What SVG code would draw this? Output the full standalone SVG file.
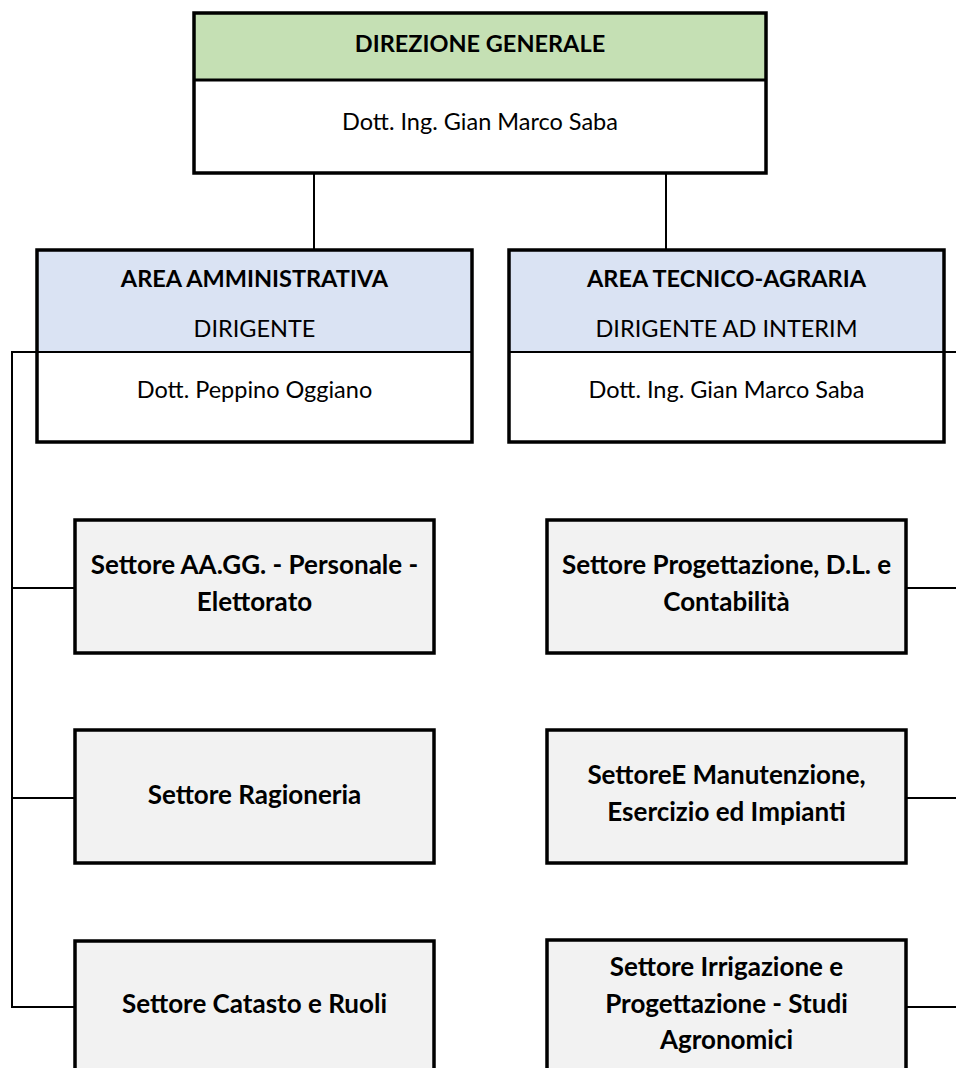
<svg xmlns="http://www.w3.org/2000/svg" width="956" height="1068" viewBox="0 0 956 1068">
<style>
.box{stroke:#000;stroke-width:3.5}
.div{stroke:#000;stroke-width:2}
.t{font-family:Lato,"Liberation Sans",sans-serif;font-size:23.5px;fill:#000;text-anchor:middle}
.b{font-weight:bold}
.s{font-family:Lato,"Liberation Sans",sans-serif;font-size:26px;font-weight:bold;fill:#000;text-anchor:middle}
.conn{stroke:#000;stroke-width:2;fill:none}
</style>
<rect width="956" height="1068" fill="#fff"/>
<g id="connectors">
<line class="conn" x1="314" y1="173" x2="314" y2="250"/>
<line class="conn" x1="666" y1="173" x2="666" y2="250"/>
<polyline class="conn" points="37,352 12,352 12,1007 75,1007"/>
<line class="conn" x1="12" y1="588" x2="75" y2="588"/>
<line class="conn" x1="12" y1="798" x2="75" y2="798"/>
<line class="conn" x1="944" y1="352" x2="956" y2="352"/>
<line class="conn" x1="906" y1="588" x2="956" y2="588"/>
<line class="conn" x1="906" y1="798" x2="956" y2="798"/>
<line class="conn" x1="906" y1="1007" x2="956" y2="1007"/>
</g>
<g id="direzione">
<rect x="194" y="13" width="572" height="67" fill="#C5E0B4"/>
<rect x="194" y="80" width="572" height="93" fill="#fff"/>
<line x1="194" y1="80" x2="766" y2="80" stroke="#000" stroke-width="3"/>
<rect class="box" x="194" y="13" width="572" height="160" fill="none"/>
<text class="t b" x="480" y="52">DIREZIONE GENERALE</text>
<text class="t" x="480" y="130">Dott. Ing. Gian Marco Saba</text>
</g>
<g id="area-amministrativa">
<rect x="37" y="250" width="435" height="102" fill="#DAE3F3"/>
<rect x="37" y="352" width="435" height="90" fill="#fff"/>
<line class="div" x1="37" y1="352" x2="472" y2="352"/>
<rect class="box" x="37" y="250" width="435" height="192" fill="none"/>
<text class="t b" x="254.5" y="287">AREA AMMINISTRATIVA</text>
<text class="t" x="254.5" y="337">DIRIGENTE</text>
<text class="t" x="254.5" y="398">Dott. Peppino Oggiano</text>
</g>
<g id="area-tecnico">
<rect x="509" y="250" width="435" height="102" fill="#DAE3F3"/>
<rect x="509" y="352" width="435" height="90" fill="#fff"/>
<line class="div" x1="509" y1="352" x2="944" y2="352"/>
<rect class="box" x="509" y="250" width="435" height="192" fill="none"/>
<text class="t b" x="726.5" y="287">AREA TECNICO-AGRARIA</text>
<text class="t" x="726.5" y="337">DIRIGENTE AD INTERIM</text>
<text class="t" x="726.5" y="398">Dott. Ing. Gian Marco Saba</text>
</g>
<g id="settore-aagg">
<rect class="box" x="75" y="520" width="359" height="133" fill="#F2F2F2"/>
<text class="s" x="254.5" y="574">Settore AA.GG. - Personale -</text>
<text class="s" x="254.5" y="611">Elettorato</text>
</g>
<g id="settore-ragioneria">
<rect class="box" x="75" y="730" width="359" height="133" fill="#F2F2F2"/>
<text class="s" x="254.5" y="804">Settore Ragioneria</text>
</g>
<g id="settore-catasto">
<rect class="box" x="75" y="941" width="359" height="140" fill="#F2F2F2"/>
<text class="s" x="254.5" y="1013">Settore Catasto e Ruoli</text>
</g>
<g id="settore-progettazione">
<rect class="box" x="547" y="520" width="359" height="133" fill="#F2F2F2"/>
<text class="s" x="726.5" y="574">Settore Progettazione, D.L. e</text>
<text class="s" x="726.5" y="611">Contabilità</text>
</g>
<g id="settore-manutenzione">
<rect class="box" x="547" y="730" width="359" height="133" fill="#F2F2F2"/>
<text class="s" x="726.5" y="784">SettoreE Manutenzione,</text>
<text class="s" x="726.5" y="821">Esercizio ed Impianti</text>
</g>
<g id="settore-irrigazione">
<rect class="box" x="547" y="940" width="359" height="140" fill="#F2F2F2"/>
<text class="s" x="726.5" y="976">Settore Irrigazione e</text>
<text class="s" x="726.5" y="1013">Progettazione - Studi</text>
<text class="s" x="726.5" y="1049">Agronomici</text>
</g>
</svg>
